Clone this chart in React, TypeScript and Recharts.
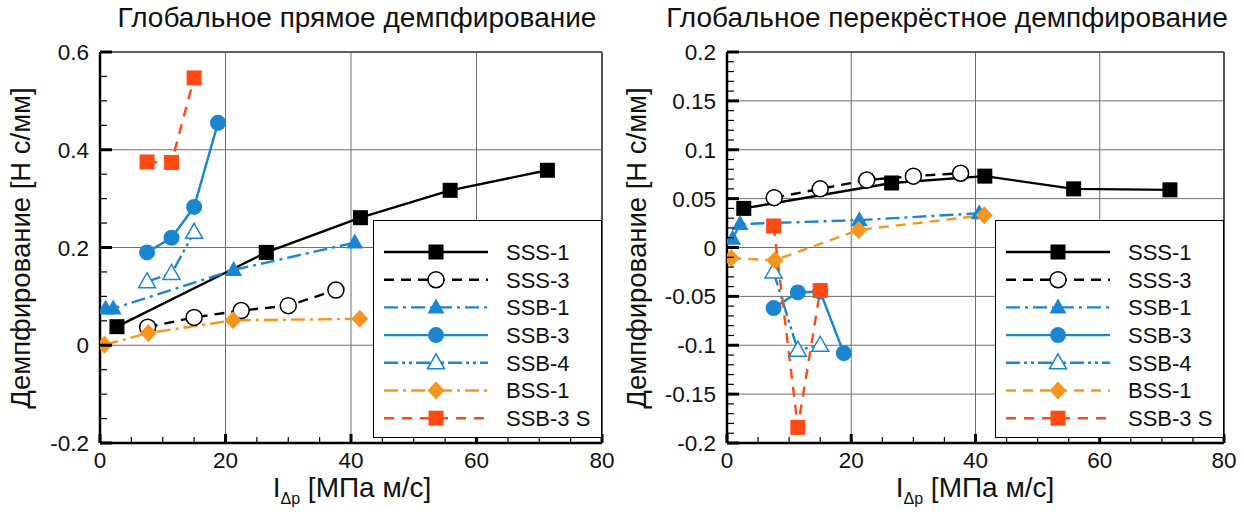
import React from "react";
import { CartesianGrid, Line, LineChart, ReferenceLine, XAxis, YAxis } from "recharts";

// x positions (I_Δp, МПа м/с) per test series
const xSSS1 = [2.7, 26.5, 41.5, 55.8, 71.3];
const xSSS3 = [7.6, 15, 22.5, 30, 37.6];
const xSSB1 = [0.9, 2.1, 21.3, 40.6];
const xSSB3 = [7.5, 11.4, 15, 18.8];
const xSSB4 = [7.5, 11.4, 15];
const xBSS1 = [0.7, 7.7, 21.2, 41.4];
const xSSB3S = [7.5, 11.4, 15];

// direct damping, Н с/мм
const directSSS1 = [0.038, 0.19, 0.261, 0.317, 0.358];
const directSSS3 = [0.037, 0.057, 0.071, 0.081, 0.113];
const directSSB1 = [0.075, 0.075, 0.154, 0.21];
const directSSB3 = [0.19, 0.22, 0.283, 0.455];
const directSSB4 = [0.13, 0.147, 0.231];
const directBSS1 = [0.001, 0.025, 0.051, 0.054];
const directSSB3S = [0.375, 0.374, 0.547];

// cross damping, Н с/мм
const crossSSS1 = [0.04, 0.066, 0.073, 0.06, 0.059];
const crossSSS3 = [0.051, 0.06, 0.069, 0.073, 0.076];
const crossSSB1 = [0.009, 0.024, 0.028, 0.035];
const crossSSB3 = [-0.062, -0.046, -0.045, -0.108];
const crossSSB4 = [-0.025, -0.105, -0.1];
const crossBSS1 = [-0.011, -0.013, 0.018, 0.033];
const crossSSB3S = [0.022, -0.184, -0.044];

const seriesNames = ["SSS-1", "SSS-3", "SSB-1", "SSB-3", "SSB-4", "BSS-1", "SSB-3 S"];

const xMajorTicks = [0, 20, 40, 60, 80];
const xMinorStep = 5;
const leftMajorTicks = [-0.2, 0, 0.2, 0.4, 0.6];
const leftMinorStep = 0.05;
const rightMajorTicks = [-0.2, -0.15, -0.1, -0.05, 0, 0.05, 0.1, 0.15, 0.2];
const rightMinorStep = 0.01;

const BLACK = "#000000";
const BLUE = "#1a86cf";
const ORANGE = "#f7961f";
const RED = "#ff4a14";

const FONT = "'Liberation Sans', Arial, Helvetica, sans-serif";

type Shape = "square" | "circle" | "triangle" | "diamond";

type Style = { color: string; dash?: string; shape: Shape; open?: boolean };

const styles: Record<string, Style> = {
  "SSS-1": { color: BLACK, shape: "square" },
  "SSS-3": { color: BLACK, dash: "10 7", shape: "circle", open: true },
  "SSB-1": { color: BLUE, dash: "14 5 3 5", shape: "triangle" },
  "SSB-3": { color: BLUE, shape: "circle" },
  "SSB-4": { color: BLUE, dash: "14 4 3 4 3 4", shape: "triangle", open: true },
  "BSS-1": { color: ORANGE, dash: "14 5 3 5", shape: "diamond" },
  "SSB-3 S": { color: RED, dash: "10 8", shape: "square" },
};

function Marker({ cx, cy, st }: { cx: number; cy: number; st: Style }) {
  const fill = st.open ? "#fff" : st.color;
  const sw = st.open ? 1.5 : 0;
  if (st.shape === "square") {
    return <rect x={cx - 7.5} y={cy - 7.5} width={15} height={15} fill={fill} stroke={st.color} strokeWidth={sw} />;
  }
  if (st.shape === "circle") {
    return <circle cx={cx} cy={cy} r={8} fill={fill} stroke={st.color} strokeWidth={sw} />;
  }
  if (st.shape === "triangle") {
    const h = 15;
    const w = 17;
    return (
      <polygon
        points={`${cx},${cy - h * 0.6} ${cx + w / 2},${cy + h * 0.4} ${cx - w / 2},${cy + h * 0.4}`}
        fill={fill}
        stroke={st.color}
        strokeWidth={st.open ? 1.5 : 0}
      />
    );
  }
  return (
    <polygon
      points={`${cx},${cy - 9} ${cx + 8.5},${cy} ${cx},${cy + 9} ${cx - 8.5},${cy}`}
      fill={fill}
    />
  );
}

function stepTicks(min: number, max: number, step: number) {
  const out: number[] = [];
  const n = Math.round((max - min) / step);
  for (let i = 0; i <= n; i++) out.push(Number((min + i * step).toFixed(4)));
  return out;
}

const isMajor = (v: number, majors: number[]) => majors.some((m) => Math.abs(m - v) < 1e-6);

function PanelChart({
  ys,
  majors,
  minorStep,
  yAxisWidth,
  bssDash,
}: {
  ys: number[][];
  majors: number[];
  minorStep: number;
  yAxisWidth: number;
  bssDash: string;
}) {
  const xs = [xSSS1, xSSS3, xSSB1, xSSB3, xSSB4, xBSS1, xSSB3S];
  const yMin = majors[0];
  const yMax = majors[majors.length - 1];
  const yTicks = stepTicks(yMin, yMax, minorStep);
  const xTicks = stepTicks(0, 80, xMinorStep);

  const YTick = (p: any) => {
    const v = p.payload.value;
    const maj = isMajor(v, majors);
    return (
      <g>
        <line x1={p.x} x2={p.x + (maj ? 12 : 7)} y1={p.y} y2={p.y} stroke="#000" strokeWidth={maj ? 3 : 1.2} />
        {maj && (
          <text x={p.x - 11} y={p.y} dy="0.36em" textAnchor="end" fontSize={22.5} fontFamily={FONT} fill="#111">
            {String(Number(v.toFixed(2)))}
          </text>
        )}
      </g>
    );
  };

  const XTick = (p: any) => {
    const v = p.payload.value;
    const maj = isMajor(v, xMajorTicks);
    return (
      <g>
        <line x1={p.x} x2={p.x} y1={p.y} y2={p.y - (maj ? 9 : 6)} stroke="#000" strokeWidth={maj ? 3 : 1.2} />
        {maj && (
          <text x={p.x} y={p.y + 17} dy="0.36em" textAnchor="middle" fontSize={22.5} fontFamily={FONT} fill="#111">
            {v}
          </text>
        )}
      </g>
    );
  };

  return (
    <LineChart width={622} height={514} margin={{ top: 52, right: 20, bottom: 0, left: 0 }}>
      <CartesianGrid
        stroke="#6f6f6f"
        strokeWidth={1}
        verticalValues={xMajorTicks}
        horizontalValues={majors}
      />
      <XAxis
        type="number"
        dataKey="x"
        domain={[0, 80]}
        ticks={xTicks}
        interval={0}
        height={71}
        tickSize={0}
        tickMargin={0}
        tickLine={false}
        tick={XTick}
        axisLine={{ stroke: "#000", strokeWidth: 2.5 }}
        allowDataOverflow
      />
      <YAxis
        type="number"
        dataKey="y"
        domain={[yMin, yMax]}
        ticks={yTicks}
        interval={0}
        width={yAxisWidth}
        tickSize={0}
        tickMargin={0}
        tickLine={false}
        tick={YTick}
        axisLine={{ stroke: "#000", strokeWidth: 2.5 }}
        allowDataOverflow
      />
      <ReferenceLine y={yMax} stroke="#444" strokeWidth={1.5} />
      <ReferenceLine x={80} stroke="#333" strokeWidth={1.5} />
      {seriesNames.map((name, i) => {
        const st = name === "BSS-1" ? { ...styles[name], dash: bssDash } : styles[name];
        const data = xs[i].map((x, j) => ({ x, y: ys[i][j] }));
        return (
          <Line
            key={name}
            data={data}
            dataKey="y"
            name={name}
            type="linear"
            stroke={st.color}
            strokeWidth={2.4}
            strokeDasharray={st.dash}
            isAnimationActive={false}
            activeDot={false}
            dot={(d: any) => <Marker key={`${name}-${d.index}`} cx={d.cx} cy={d.cy} st={st} />}
          />
        );
      })}
    </LineChart>
  );
}

function LegendBox({ left, bssDash }: { left: number; bssDash: string }) {
  return (
    <div
      style={{
        position: "absolute",
        left,
        top: 220,
        width: 229,
        height: 218,
        background: "#fff",
        border: "1.5px solid #000",
        boxSizing: "border-box",
      }}
    >
      <svg width={226} height={215} style={{ position: "absolute", left: 0, top: 0 }}>
        {seriesNames.map((name, i) => {
          const st = name === "BSS-1" ? { ...styles[name], dash: bssDash } : styles[name];
          const cy = 31 + i * 27.7;
          return (
            <g key={name}>
              <line x1={10} x2={114} y1={cy} y2={cy} stroke={st.color} strokeWidth={2.4} strokeDasharray={st.dash} />
              <Marker cx={62} cy={cy} st={st} />
              <text x={132} y={cy} dy="0.36em" fontSize={22} fontFamily={FONT} fill="#111">
                {name}
              </text>
            </g>
          );
        })}
      </svg>
    </div>
  );
}

function AxisTitles({ left, title, titleCenter, xCenter }: { left: number; title: string; titleCenter: number; xCenter: number }) {
  return (
    <>
      <div
        style={{
          position: "absolute",
          left: titleCenter - 300,
          width: 600,
          top: 2,
          textAlign: "center",
          fontSize: 28,
          fontFamily: FONT,
          color: "#111",
        }}
      >
        {title}
      </div>
      <div
        style={{
          position: "absolute",
          left: left - 200,
          top: 248 - 16,
          width: 400,
          height: 32,
          lineHeight: "32px",
          textAlign: "center",
          transform: "rotate(-90deg)",
          fontSize: 27.5,
          fontFamily: FONT,
          color: "#111",
        }}
      >
        Демпфирование [Н с/мм]
      </div>
      <div
        style={{
          position: "absolute",
          left: xCenter - 150,
          width: 300,
          top: 472,
          textAlign: "center",
          fontSize: 28,
          fontFamily: FONT,
          color: "#111",
        }}
      >
        I<sub style={{ fontSize: 16 }}>Δp</sub> [МПа м/с]
      </div>
    </>
  );
}

export default function App() {
  const direct = [directSSS1, directSSS3, directSSB1, directSSB3, directSSB4, directBSS1, directSSB3S];
  const cross = [crossSSS1, crossSSS3, crossSSB1, crossSSB3, crossSSB4, crossBSS1, crossSSB3S];
  return (
    <div style={{ position: "absolute", left: 0, top: 0, width: 1244, height: 514, background: "#fff", overflow: "hidden" }}>
      <div style={{ position: "absolute", left: 0, top: 0 }}>
        <PanelChart ys={direct} majors={leftMajorTicks} minorStep={leftMinorStep} yAxisWidth={100} bssDash="14 5 3 5" />
      </div>
      <div style={{ position: "absolute", left: 622, top: 0 }}>
        <PanelChart ys={cross} majors={rightMajorTicks} minorStep={rightMinorStep} yAxisWidth={105} bssDash="10 7" />
      </div>
      <LegendBox left={373} bssDash="14 5 3 5" />
      <LegendBox left={995} bssDash="10 7" />
      <AxisTitles left={21} title="Глобальное прямое демпфирование" titleCenter={357} xCenter={352} />
      <AxisTitles left={637} title="Глобальное перекрёстное демпфирование" titleCenter={947} xCenter={975} />
    </div>
  );
}
